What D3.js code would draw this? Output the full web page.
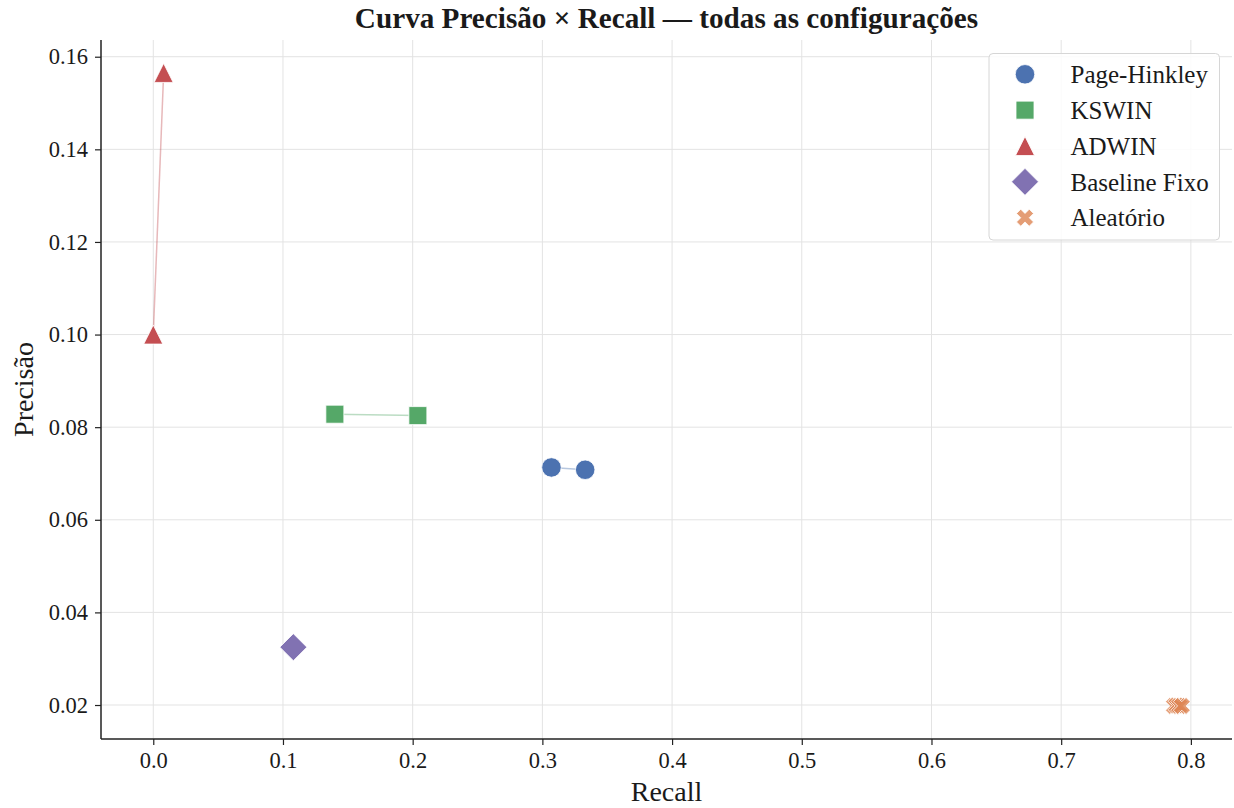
<!DOCTYPE html>
<html>
<head>
<meta charset="utf-8">
<script src="https://cdn.jsdelivr.net/npm/d3@7"></script>
<style>
  html, body { margin: 0; padding: 0; background: #ffffff; }
  svg { display: block; }
  text { font-family: "Liberation Serif", "Times New Roman", serif; fill: #1a1a1a; }
</style>
</head>
<body>
<svg id="chart" width="1234" height="808"></svg>
<script>
// ---- Data ----
const categories = ["Page-Hinkley", "KSWIN", "ADWIN", "Baseline Fixo", "Aleatório"];
const pageHinkleyRecall = [0.307, 0.333];
const pageHinkleyPrecision = [0.0713, 0.0708];
const kswinRecall = [0.140, 0.204];
const kswinPrecision = [0.0828, 0.0825];
const adwinRecall = [0.000, 0.008];
const adwinPrecision = [0.1000, 0.1565];
const baselineRecall = [0.108];
const baselinePrecision = [0.0325];
const aleatorioRecall = [0.787, 0.789, 0.791, 0.793];
const aleatorioPrecision = [0.0198, 0.0199, 0.0198, 0.0198];
const xTicks = [0.0, 0.1, 0.2, 0.3, 0.4, 0.5, 0.6, 0.7, 0.8];
const yTicks = [0.02, 0.04, 0.06, 0.08, 0.10, 0.12, 0.14, 0.16];
const titleText = "Curva Precisão × Recall — todas as configurações";
const xLabel = "Recall";
const yLabel = "Precisão";

// ---- Styles ----
const colors = ["#4C72B0", "#55A868", "#C44E52", "#8172B2", "#DD8452"];
const shapes = ["circle", "square", "triangle", "diamond", "x"];
const sizes = [19.5, 18, 19, 27, 17];
const alphas = [1, 1, 1, 1, 0.8];

const seriesRecall = [pageHinkleyRecall, kswinRecall, adwinRecall, baselineRecall, aleatorioRecall];
const seriesPrecision = [pageHinkleyPrecision, kswinPrecision, adwinPrecision, baselinePrecision, aleatorioPrecision];
const series = categories.map((name, i) => ({
  name, color: colors[i], shape: shapes[i], size: sizes[i], alpha: alphas[i],
  points: seriesRecall[i].map((r, j) => ({ r, p: seriesPrecision[i][j] }))
}));

const plot = { left: 101, right: 1232, top: 40, bottom: 739 };
const x = d3.scaleLinear().domain([-0.0403, 0.8317]).range([plot.left, plot.right]);
const y = d3.scaleLinear().domain([0.01266, 0.16361]).range([plot.bottom, plot.top]);

const svg = d3.select("#chart");

function markerPath(shape, s) {
  const h = s / 2;
  switch (shape) {
    case "circle": {
      const p = d3.path(); p.arc(0, 0, h, 0, 2 * Math.PI); p.closePath(); return p.toString();
    }
    case "square":
      return `M${-h},${-h}L${h},${-h}L${h},${h}L${-h},${h}Z`;
    case "triangle":
      return `M0,${-h}L${h},${h}L${-h},${h}Z`;
    case "diamond":
      return `M0,${-h}L${h},0L0,${h}L${-h},0Z`;
    case "x": {
      const pts = [[-0.25,-0.5],[0,-0.25],[0.25,-0.5],[0.5,-0.25],[0.25,0],[0.5,0.25],[0.25,0.5],[0,0.25],[-0.25,0.5],[-0.5,0.25],[-0.25,0],[-0.5,-0.25]];
      return "M" + pts.map(p => `${p[0]*s},${p[1]*s}`).join("L") + "Z";
    }
  }
}

// ---- Grid ----
const grid = svg.append("g").attr("class", "grid");
grid.selectAll("line.gx").data(xTicks).join("line")
  .attr("x1", d => x(d)).attr("x2", d => x(d))
  .attr("y1", plot.top).attr("y2", plot.bottom)
  .attr("stroke", "#e3e3e3").attr("stroke-width", 1);
grid.selectAll("line.gy").data(yTicks).join("line")
  .attr("x1", plot.left).attr("x2", plot.right)
  .attr("y1", d => y(d)).attr("y2", d => y(d))
  .attr("stroke", "#e3e3e3").attr("stroke-width", 1);

// ---- Axes ----
const xAxis = d3.axisBottom(x).tickValues(xTicks).tickFormat(d3.format(".1f")).tickSizeOuter(0).tickSize(6).tickPadding(7);
const yAxis = d3.axisLeft(y).tickValues(yTicks).tickFormat(d3.format(".2f")).tickSizeOuter(0).tickSize(6).tickPadding(7);

const gx = svg.append("g").attr("transform", `translate(0,${plot.bottom})`).call(xAxis);
const gy = svg.append("g").attr("transform", `translate(${plot.left},0)`).call(yAxis);
[gx, gy].forEach(g => {
  g.select(".domain").remove();
  g.selectAll(".tick line").attr("stroke", "#222").attr("stroke-width", 1.2);
  g.selectAll(".tick text").attr("font-family", "Liberation Serif, serif").attr("font-size", 22.5).attr("fill", "#1a1a1a");
});
// spines
svg.append("line").attr("x1", plot.left).attr("x2", plot.left).attr("y1", plot.top).attr("y2", plot.bottom)
  .attr("stroke", "#222").attr("stroke-width", 1.5);
svg.append("line").attr("x1", plot.left).attr("x2", plot.right).attr("y1", plot.bottom).attr("y2", plot.bottom)
  .attr("stroke", "#222").attr("stroke-width", 1.5);

// ---- Lines ----
const line = d3.line().x(d => x(d.r)).y(d => y(d.p));
svg.append("g").selectAll("path").data(series.filter(s => s.points.length > 1)).join("path")
  .attr("d", s => line(s.points))
  .attr("fill", "none").attr("stroke", s => s.color).attr("stroke-opacity", 0.4).attr("stroke-width", 1.5);

// ---- Markers ----
series.forEach(s => {
  svg.append("g").selectAll("path").data(s.points).join("path")
    .attr("d", markerPath(s.shape, s.size))
    .attr("transform", d => `translate(${x(d.r)},${y(d.p)})`)
    .attr("fill", s.color).attr("fill-opacity", s.alpha)
    .attr("stroke", "#ffffff").attr("stroke-width", 0.8);
});

// ---- Labels ----
svg.append("text").attr("x", (plot.left + plot.right) / 2).attr("y", 28)
  .attr("text-anchor", "middle").attr("font-size", 29.2).attr("font-weight", "bold").text(titleText);
svg.append("text").attr("x", (plot.left + plot.right) / 2).attr("y", 801)
  .attr("text-anchor", "middle").attr("font-size", 28).text(xLabel);
svg.append("text").attr("transform", `translate(33,${(plot.top + plot.bottom) / 2}) rotate(-90)`)
  .attr("text-anchor", "middle").attr("font-size", 28).text(yLabel);

// ---- Legend ----
const legend = svg.append("g");
legend.append("rect").attr("x", 989).attr("y", 53.5).attr("width", 230.5).attr("height", 186.5)
  .attr("rx", 4).attr("fill", "#ffffff").attr("fill-opacity", 0.85)
  .attr("stroke", "#d6d6d6").attr("stroke-width", 1);
const rowY = d3.scaleLinear().domain([0, categories.length - 1]).range([74.3, 217.7]);
series.forEach((s, i) => {
  legend.append("path").attr("d", markerPath(s.shape, s.size))
    .attr("transform", `translate(1025,${rowY(i)})`)
    .attr("fill", s.color).attr("fill-opacity", s.alpha)
    .attr("stroke", "#ffffff").attr("stroke-width", 0.8);
  legend.append("text").attr("x", 1070.5).attr("y", rowY(i)).attr("dy", "0.35em")
    .attr("font-size", 25).text(s.name);
});
</script>
</body>
</html>
